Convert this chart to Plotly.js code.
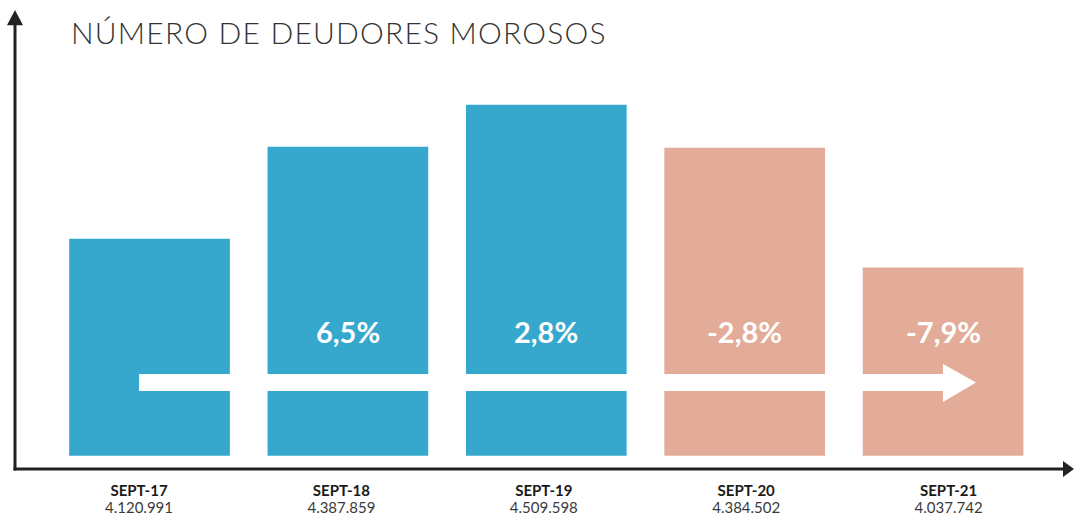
<!DOCTYPE html>
<html>
<head>
<meta charset="utf-8">
<script src="https://cdn.plot.ly/plotly-3.0.1.min.js"></script>
<style>html,body{margin:0;padding:0;background:#fff;}#chart{width:1074px;height:517px;}
.gtitle{letter-spacing:1.2px;}</style>
</head>
<body>
<div id="chart"></div>
<script>
const categories = ["SEPT-17", "SEPT-18", "SEPT-19", "SEPT-20", "SEPT-21"];
const valueLabels = ["4.120.991", "4.387.859", "4.509.598", "4.384.502", "4.037.742"];
const deudores = [4120991, 4387859, 4509598, 4384502, 4037742];
const variation = ["", "6,5%", "2,8%", "-2,8%", "-7,9%"];
const barColors = ["#36A8CE", "#36A8CE", "#36A8CE", "#E3AC98", "#E3AC98"];

const BASE = 3491700;
const xIdx = categories.map((c, i) => i);

const bars = {
  type: "bar",
  x: xIdx,
  y: deudores.map(v => v - BASE),
  base: BASE,
  width: 0.81,
  marker: {color: barColors},
  hoverinfo: "skip"
};

// invisible traces carrying the two label axes
const labelCarrier2 = {
  type: "scatter", mode: "markers",
  x: xIdx, y: deudores, xaxis: "x2",
  marker: {opacity: 0}, hoverinfo: "skip"
};
const labelCarrier3 = {
  type: "scatter", mode: "markers",
  x: xIdx, y: deudores, xaxis: "x3",
  marker: {opacity: 0}, hoverinfo: "skip"
};

const annotations = variation.map((t, i) => ({
  x: i, xref: "x", y: 0.2985, yref: "paper",
  text: "<b>" + t + "</b>", showarrow: false,
  font: {family: "Lato, sans-serif", size: 29, color: "#ffffff"},
  xanchor: "center", yanchor: "middle"
})).filter(a => a.text !== "<b></b>");

const axisColor = "#222222";
const shapes = [
  // white arrow band
  {type: "rect", xref: "paper", yref: "paper", x0: 0.1171, x1: 0.8770, y0: 0.170, y1: 0.207,
   fillcolor: "#ffffff", line: {width: 0}, layer: "above"},
  {type: "path", xref: "paper", yref: "paper",
   path: "M 0.8763 0.2288 L 0.9075 0.1885 L 0.8763 0.146 Z",
   fillcolor: "#ffffff", line: {width: 0}, layer: "above"},
  // y axis line + arrow
  {type: "line", xref: "paper", yref: "paper", x0: 0, x1: 0, y0: -0.003, y1: 0.97,
   line: {color: axisColor, width: 3}},
  {type: "path", xref: "paper", yref: "paper",
   path: "M -0.0076 0.967 L 0 1 L 0.0076 0.967 Z",
   fillcolor: axisColor, line: {width: 0}},
  // x axis line + arrow
  {type: "line", xref: "paper", yref: "paper", x0: -0.0014, x1: 0.991, y0: 0, y1: 0,
   line: {color: axisColor, width: 3}},
  {type: "path", xref: "paper", yref: "paper",
   path: "M 0.9896 0.0174 L 1.0 0 L 0.9896 -0.0174 Z",
   fillcolor: axisColor, line: {width: 0}}
];

const labelAxisBase = {
  overlaying: "x", side: "bottom",
  range: [-0.6127, 4.6196],
  tickvals: xIdx,
  showline: false, showgrid: false, zeroline: false, ticks: "", fixedrange: true
};

const layout = {
  width: 1074, height: 517,
  margin: {l: 15, r: 0, t: 10, b: 48},
  paper_bgcolor: "#ffffff", plot_bgcolor: "#ffffff",
  showlegend: false,
  title: {
    text: "NÚMERO DE DEUDORES MOROSOS",
    x: 71 / 1074, xref: "container", xanchor: "left",
    y: 1 - 33.5 / 517, yref: "container", yanchor: "middle",
    font: {family: "Lato, sans-serif", size: 30, color: "#333333", weight: 300}
  },
  xaxis: {
    range: [-0.678, 4.66],
    showticklabels: false,
    showline: false, showgrid: false, zeroline: false, ticks: "", fixedrange: true
  },
  xaxis2: Object.assign({}, labelAxisBase, {
    ticktext: categories,
    tickfont: {family: "Lato, sans-serif", size: 15, color: "#1a1a1a", weight: 700},
    ticklabelstandoff: 11
  }),
  xaxis3: Object.assign({}, labelAxisBase, {
    ticktext: valueLabels,
    tickfont: {family: "Lato, sans-serif", size: 15, color: "#3a3a3a"},
    ticklabelstandoff: 28
  }),
  yaxis: {
    range: [3453130, 4784230],
    showticklabels: false, showgrid: false, zeroline: false, showline: false,
    ticks: "", fixedrange: true
  },
  annotations: annotations,
  shapes: shapes
};

Plotly.newPlot("chart", [bars, labelCarrier2, labelCarrier3], layout, {displayModeBar: false, staticPlot: true});
</script>
</body>
</html>
